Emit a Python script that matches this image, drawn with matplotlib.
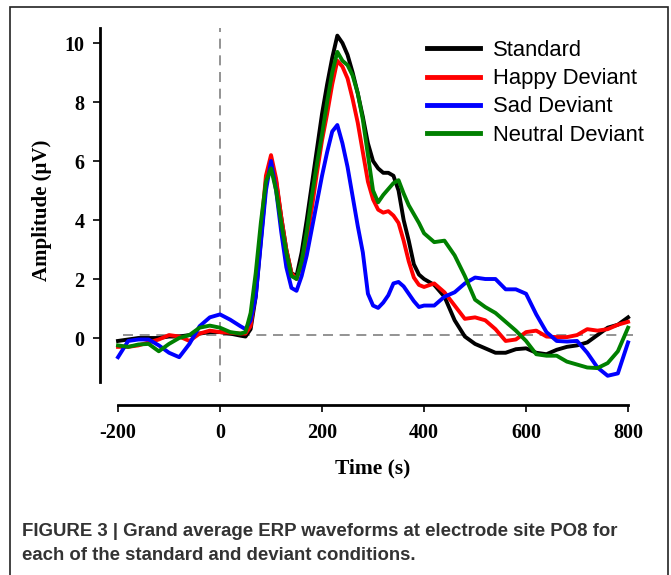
import matplotlib
matplotlib.use('Agg')
import matplotlib.pyplot as plt
from matplotlib.patches import Rectangle

plt.rcParams['axes.unicode_minus'] = False

# time points (ms) shared by all four waveforms
time_ms = [-200, -180, -160, -140, -120, -100, -80, -60, -40, -20, 0, 20, 40,
           50, 60, 70, 80, 90, 100, 110, 120, 130, 140, 150, 160, 170, 180, 190,
           200, 210, 220, 230, 240, 250, 260, 270, 280, 290, 300, 310, 320, 330,
           340, 350, 360, 370, 380, 390, 400,
           420, 440, 460, 480, 500, 520, 540, 560, 580, 600, 620, 640, 660, 680,
           700, 720, 740, 760, 780, 800]

standard = [-0.1, -0.05, 0.0, 0.0, 0.0, 0.05, 0.05, 0.1, 0.15, 0.2, 0.2, 0.15, 0.08,
            0.05, 0.3, 1.4, 3.3, 5.2, 6.0, 5.3, 4.1, 3.0, 2.2, 2.1, 2.9, 4.0, 5.2, 6.4,
            7.6, 8.6, 9.5, 10.25, 10.0, 9.6, 9.0, 8.3, 7.5, 6.6, 6.0, 5.75, 5.6, 5.6,
            5.5, 5.0, 4.0, 3.3, 2.5, 2.15, 2.0,
            1.8, 1.4, 0.6, 0.05, -0.2, -0.35, -0.5, -0.5, -0.38, -0.35, -0.5, -0.55, -0.4, -0.3,
            -0.25, -0.15, 0.1, 0.35, 0.45, 0.7]

happy = [-0.3, -0.3, -0.25, -0.15, -0.05, 0.1, 0.05, -0.1, 0.15, 0.25, 0.2, 0.18, 0.15,
         0.15, 0.4, 1.6, 3.6, 5.5, 6.2, 5.4, 4.1, 3.0, 2.2, 2.0, 2.5, 3.3, 4.4, 5.6,
         6.7, 7.6, 8.6, 9.4, 9.2, 8.8, 8.1, 7.3, 6.3, 5.3, 4.7, 4.35, 4.25, 4.3,
         4.15, 3.9, 3.3, 2.6, 2.05, 1.8, 1.73,
         1.85, 1.55, 1.1, 0.65, 0.7, 0.6, 0.3, -0.1, -0.05, 0.2, 0.25, 0.05, 0.03, 0.03,
         0.1, 0.3, 0.25, 0.3, 0.45, 0.55]

sad = [-0.65, -0.1, -0.05, -0.05, -0.25, -0.5, -0.65, -0.2, 0.4, 0.7, 0.8, 0.62, 0.4,
       0.3, 0.6, 1.4, 3.2, 5.0, 6.0, 5.0, 3.6, 2.4, 1.7, 1.6, 2.1, 2.8, 3.7, 4.6,
       5.5, 6.3, 7.0, 7.22, 6.6, 5.8, 4.8, 3.8, 2.9, 1.5, 1.1, 1.02, 1.2, 1.45,
       1.85, 1.9, 1.75, 1.5, 1.25, 1.05, 1.1,
       1.1, 1.4, 1.55, 1.85, 2.05, 2.0, 2.0, 1.65, 1.65, 1.5, 0.8, 0.2, -0.1, -0.12,
       -0.1, -0.5, -1.0, -1.28, -1.2, -0.15]

neutral = [-0.25, -0.3, -0.22, -0.2, -0.45, -0.2, 0.0, 0.1, 0.35, 0.42, 0.35, 0.2, 0.15,
           0.2, 0.85, 2.2, 3.9, 5.3, 5.75, 5.0, 3.9, 2.9, 2.1, 2.0, 2.6, 3.6, 4.8, 5.9,
           6.9, 8.0, 9.0, 9.7, 9.4, 9.25, 8.9, 8.3, 7.4, 6.2, 5.0, 4.6, 4.85, 5.05,
           5.25, 5.35, 4.9, 4.5, 4.2, 3.9, 3.55,
           3.25, 3.3, 2.8, 2.1, 1.3, 1.05, 0.85, 0.55, 0.25, -0.1, -0.55, -0.6, -0.6, -0.8,
           -0.9, -1.0, -1.02, -0.85, -0.45, 0.35]

series_names = ['Standard', 'Happy Deviant', 'Sad Deviant', 'Neutral Deviant']
series_colors = ['#000000', '#ff0000', '#0000ff', '#008000']
x_ticks = [-200, 0, 200, 400, 600, 800]
y_ticks = [0, 2, 4, 6, 8, 10]

W, H = 671, 575
fig = plt.figure(figsize=(W / 100, H / 100), dpi=100)

# axes box placed in pixels: left spine at x=100, bottom spine at y=405
ax = fig.add_axes([100 / W, 1 - 405 / H, 550 / W, 385 / H])
ax.set_xlim(-235.3, 843)
ax.set_ylim(-2.271, 10.78)

serif = 'Liberation Serif'

ax.hlines(0.1, -190, 810, colors='#808080', linewidth=1.2, linestyles=(0, (6, 4)))
ax.vlines(0, -1.5, 10.5, colors='#808080', linewidth=1.2, linestyles=(0, (6, 4)))

for vals, name, col in zip([standard, happy, sad, neutral], series_names, series_colors):
    ax.plot(time_ms, vals, color=col, linewidth=2.8, label=name, solid_joinstyle='round')

for s in ['top', 'right']:
    ax.spines[s].set_visible(False)
ax.spines['left'].set_bounds(-1.5, 10.5)
ax.spines['bottom'].set_bounds(-200, 800)
ax.spines['left'].set_linewidth(2.0)
ax.spines['bottom'].set_linewidth(2.0)

ax.set_xticks(x_ticks)
ax.set_yticks(y_ticks)
ax.tick_params(axis='both', direction='out', length=5, width=1.2, pad=6)
ax.tick_params(axis='x', pad=8)
for lab in ax.get_xticklabels() + ax.get_yticklabels():
    lab.set_fontfamily(serif)
    lab.set_fontweight('bold')
    lab.set_fontsize(14.5)

fig.text(42 / W, 1 - 210 / H, 'Amplitude (\u03bcV)', rotation=90, ha='center', va='center',
         family=serif, fontweight='bold', fontsize=15)
fig.text(373 / W, 1 - 468 / H, 'Time (s)', ha='center', va='center',
         family=serif, fontweight='bold', fontsize=15.5)

leg = ax.legend(loc='upper left', bbox_to_anchor=(427 / W, 1 - 40 / H),
                bbox_transform=fig.transFigure, frameon=False,
                prop={'family': 'Liberation Sans', 'size': 15.8},
                handlelength=2.4, handletextpad=0.6, labelspacing=0.33,
                borderpad=0, borderaxespad=0)
for h in leg.get_lines():
    h.set_linewidth(3.5)

cap_font = ['Liberation Sans Narrow', 'Liberation Sans']
fig.text(22 / W, 1 - 532 / H, 'FIGURE 3 | Grand average ERP waveforms at electrode site PO8 for',
         ha='left', va='center', family=cap_font, fontweight='bold', fontsize=13.4,
         color='#333333')
fig.text(22 / W, 1 - 555 / H, 'each of the standard and deviant conditions.',
         ha='left', va='center', family=cap_font, fontweight='bold', fontsize=13.4,
         color='#333333')

fig.add_artist(Rectangle((10 / W, -0.02), 658 / W, 1 - 7 / H + 0.02,
                         transform=fig.transFigure, fill=False,
                         edgecolor='#222222', linewidth=1.2))

fig.savefig('out.png', dpi=100)
